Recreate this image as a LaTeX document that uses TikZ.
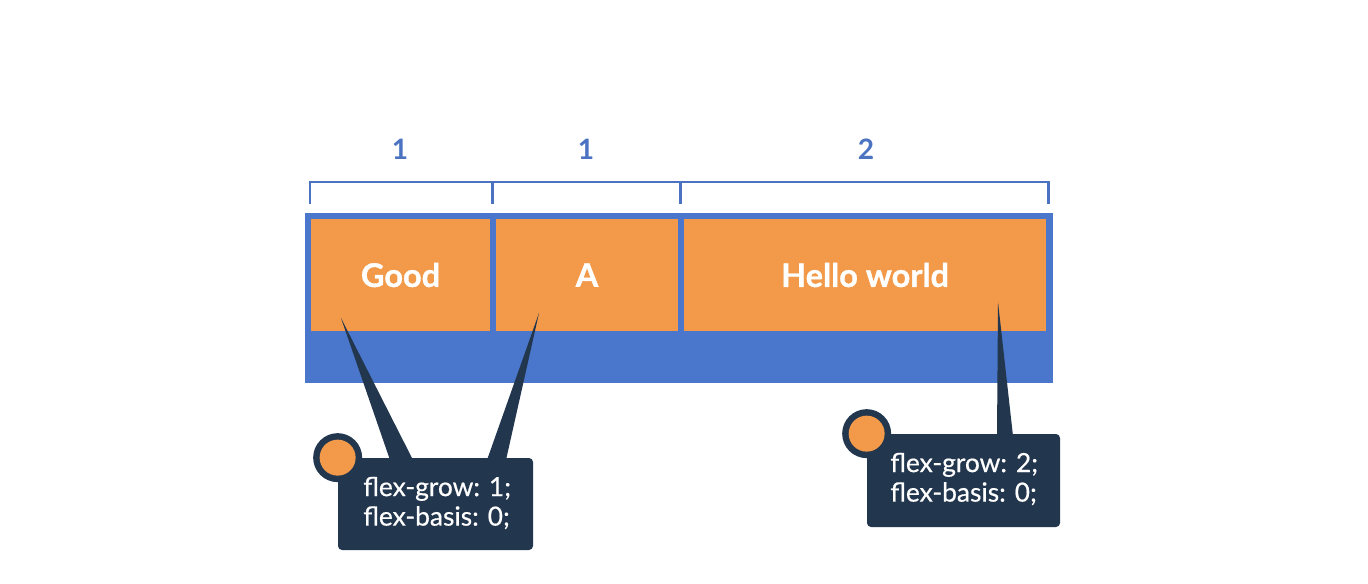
\documentclass[tikz,border=0pt]{standalone}
\usepackage{fontspec}
\setmainfont{Lato}
\newfontfamily\heavyfont[FakeBold=1]{Lato}
\newfontfamily\midfont[FakeBold=0.5]{Lato}
\usetikzlibrary{fit}
\definecolor{flexorange}{HTML}{F2994A}
\definecolor{flexblue}{HTML}{4A77CB}
\definecolor{bracketblue}{HTML}{4B73C2}
\definecolor{navy}{HTML}{22364E}
\tikzset{
  itembox/.style={fill=flexorange, inner sep=0pt},
  itemtext/.style={text=white, inner sep=0pt, font=\heavyfont\bfseries\fontsize{18.5}{21}\selectfont},
  container/.style={fill=flexblue, inner sep=0pt},
  bracket/.style={draw=bracketblue, line width=1.7pt},
  ratio/.style={text=bracketblue, font=\bfseries\fontsize{16}{19}\selectfont, inner sep=0pt},
  callout/.style={fill=navy, inner sep=0pt, rounded corners=0.08cm},
  callouttext/.style={text=white, font=\midfont\fontsize{15}{16.8}\selectfont, align=left, inner sep=0pt, anchor=west},
  spike/.style={fill=navy},
  dotring/.style={fill=navy, circle, minimum size=0.98cm, inner sep=0pt},
  dot/.style={fill=flexorange, circle, minimum size=0.72cm, inner sep=0pt}
}
\begin{document}
\begin{tikzpicture}[x=0.02cm, y=-0.02cm]
\useasboundingbox (0,0) rectangle (1368,584);
% container
\node[container, fit={(305,213) (1053,383)}] (cont) {};
% items
\node[itembox, fit={(311,219) (490,331)}] (good) {};
\node[itembox, fit={(496,219) (678,331)}] (a) {};
\node[itembox, fit={(684,219) (1046,331)}] (hello) {};
\node[itemtext] (goodtxt) at (400.5,275) {Good};
\node[itemtext] (atxt) at (587,275) {A};
\node[itemtext] (hellotxt) at (865,275) {Hello world};
% bracket
\coordinate (b0) at (310,204);
\coordinate (b1) at (492,204);
\coordinate (b2) at (680,204);
\coordinate (b3) at (1048,204);
\draw[bracket] (b0) -- (310,182) -- (1048,182) -- (b3);
\draw[bracket] (b1) -- (492,182);
\draw[bracket] (b2) -- (680,182);
\node[ratio] (r1) at (400,149) {1};
\node[ratio] (r2) at (586,149) {1};
\node[ratio] (r3) at (866,149) {2};
% spikes
\coordinate (t1) at (341,318);
\coordinate (t2) at (539,313);
\coordinate (t3) at (998,302);
\fill[spike] (t1) -- (390,460) -- (413,460) -- cycle;
\fill[spike] (t2) -- (487,460) -- (506,460) -- cycle;
\fill[spike] (t3) -- (997,436) -- (1013,436) -- cycle;
% callouts
\node[callout, fit={(338,458) (533,550)}] (c1) {};
\node[callout, fit={(867,434) (1060,527)}] (c2) {};
\node[dotring] (ring1) at (c1.north west) {};
\node[dot] (dot1) at (ring1) {};
\node[dotring] (ring2) at (c2.north west) {};
\node[dot] (dot2) at (ring2) {};
\node[callouttext] (txt1) at (363,503) {flex-grow: 1;\\flex-basis: 0;};
\node[callouttext] (txt2) at (890,479) {flex-grow: 2;\\flex-basis: 0;};
\end{tikzpicture}
\end{document}
